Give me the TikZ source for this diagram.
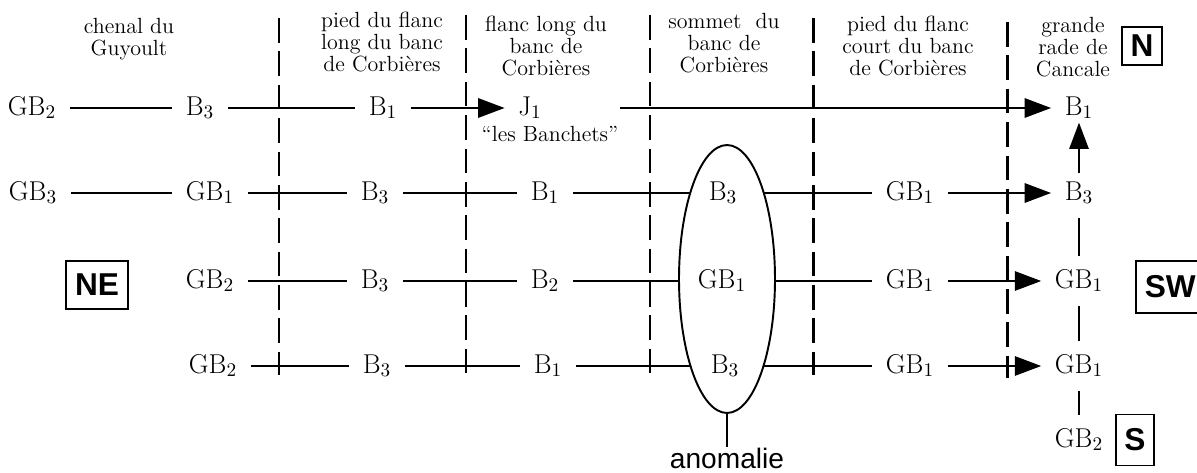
\documentclass[tikz,border=0pt]{standalone}
\usepackage{fontspec}
\newfontfamily\helv{Liberation Sans}
\usepackage{tikz}
\usetikzlibrary{arrows.meta, positioning, shapes.geometric}

\tikzset{
  lab/.style={font=\fontsize{15.5}{17}\selectfont, text height=10.5pt, text depth=2.5pt, outer sep=4.5pt},
  head/.style={font=\fontsize{12.5}{12.5}\selectfont, align=center, inner sep=1pt},
  link/.style={line width=1.1pt},
  arr/.style={line width=1.1pt, -{Triangle[length=15pt,width=11pt]}},
  sep/.style={line width=1.7pt, dash pattern=on 14pt off 5pt},
  thinsep/.style={line width=0.6pt, dash pattern=on 14pt off 5pt},
  dirbox/.style={draw, line width=1.1pt, font=\helv\bfseries\fontsize{18}{18}\selectfont, inner xsep=5pt, minimum height=27pt},
}

\begin{document}
\begin{tikzpicture}[x=0.02cm, y=-0.02cm]
			\useasboundingbox (0,0) rectangle (1197,473);
			
			% Draw zone limits (dashed)
			\draw[sep] (279,18) -- (279,375);
			\draw[sep] (466,15) -- (466,375);
			\draw[thinsep] (650,15) -- (650,375);
			\draw[sep] (813,18) -- (813,375);
			\draw[sep] (1007,22) -- (1007,378);
			
			% Zone names
			\node[head] (h1) at (129,39) {chenal du\\Guyoult};
			\node[head] (h2) at (382,42) {pied du flanc\\long du banc\\de Corbières};
			\node[head] (h3) at (546,46) {flanc long du\\banc de\\Corbières};
			\node[head] (h4) at (724,43) {sommet\ \ du\\banc de\\Corbières};
			\node[head] (h5) at (908,46) {pied du flanc\\court du banc\\de Corbières};
			\node[head] (h6) at (1073,47) {grande\\rade de\\Cancale};
			
			% Orientation boxes
			\node[dirbox, minimum height=22pt] (n) at (1142,46) {N};
			\node[dirbox] (ne) at (97,285) {NE};
			\node[dirbox, minimum height=30pt, anchor=west] (sw) at (1135,287) {SW};
			\node[dirbox, minimum height=29pt] (s) at (1135,440) {S};
			
			% Anomaly
			\node[draw, ellipse, line width=1.1pt, inner sep=0pt, minimum width=1.92cm, minimum height=5.36cm] (anom) at (727,279) {};
			\node[below=19pt of anom, inner sep=0pt, font=\helv\fontsize{16}{16}\selectfont] (anomtxt) {anomalie};
			\draw[link] (anom.south) -- (anomtxt.north);
			
			% Row 1
			\node[lab] (r1c1) at (32,108) {GB$_2$};
			\node[lab] (r1c2) at (200,108) {B$_3$};
			\node[lab] (r1c3) at (383,108) {B$_1$};
			\node[lab] (r1c4) at (530,108) {J$_1$};
			\node[head] (banch) at (550,134) {“les Banchets”};
			\node[lab] (r1c7) at (1079,108) {B$_1$};
			\draw[link] (r1c1) -- (r1c2);
			\draw[link] (r1c2) -- (r1c3);
			\draw[arr] (r1c3) -- (r1c4);
			\draw[arr] (banch.east |- r1c4) -- (r1c7);
			
			% Row 2
			\node[lab] (r2c1) at (33,193) {GB$_3$};
			\node[lab] (r2c2) at (210,193) {GB$_1$};
			\node[lab] (r2c3) at (375,193) {B$_3$};
			\node[lab] (r2c4) at (545,193) {B$_1$};
			\node[lab] (r2c5) at (723,193) {B$_3$};
			\node[lab] (r2c6) at (910,193) {GB$_1$};
			\node[lab] (r2c7) at (1079,193) {B$_3$};
			\draw[link] (r2c1) -- (r2c2);
			\draw[link] (r2c2) -- (r2c3);
			\draw[link] (r2c3) -- (r2c4);
			\draw[link] (r2c4) -- (r2c4 -| anom.113);
			\draw[link] (r2c6 -| anom.67) -- (r2c6);
			\draw[arr] (r2c6) -- (r2c7);
			
			% Row 3
			\node[lab] (r3c2) at (210,281) {GB$_2$};
			\node[lab] (r3c3) at (375,281) {B$_3$};
			\node[lab] (r3c4) at (545,281) {B$_2$};
			\node[lab] (r3c5) at (722,281) {GB$_1$};
			\node[lab] (r3c6) at (910,281) {GB$_1$};
			\node[lab] (r3c7) at (1079,281) {GB$_1$};
			\draw[link] (r3c2) -- (r3c3);
			\draw[link] (r3c3) -- (r3c4);
			\draw[link] (r3c4) -- (r3c4 -| anom.west);
			\draw[link] (r3c6 -| anom.east) -- (r3c6);
			\draw[arr] (r3c6) -- (r3c7);
			
			% Row 4
			\node[lab] (r4c2) at (213,366) {GB$_2$};
			\node[lab] (r4c3) at (377,366) {B$_3$};
			\node[lab] (r4c4) at (548,366) {B$_1$};
			\node[lab] (r4c5) at (725,366) {B$_3$};
			\node[lab] (r4c6) at (910,366) {GB$_1$};
			\node[lab] (r4c7) at (1079,366) {GB$_1$};
			\draw[link] (r4c2) -- (r4c3);
			\draw[link] (r4c3) -- (r4c4);
			\draw[link] (r4c4) -- (r4c4 -| anom.247);
			\draw[link] (r4c6 -| anom.293) -- (r4c6);
			\draw[arr] (r4c6) -- (r4c7);
			
			% Grande rade column
			\node[lab] (r5c7) at (1079,440) {GB$_2$};
			\draw[arr, shorten >=-6pt, shorten <=-3pt] (r2c7) -- (r1c7);
			\draw[link] (r2c7) -- (r3c7);
			\draw[link] (r3c7) -- (r4c7);
			\draw[link] (r4c7) -- (r5c7);
			
		\end{tikzpicture}
\end{document}
